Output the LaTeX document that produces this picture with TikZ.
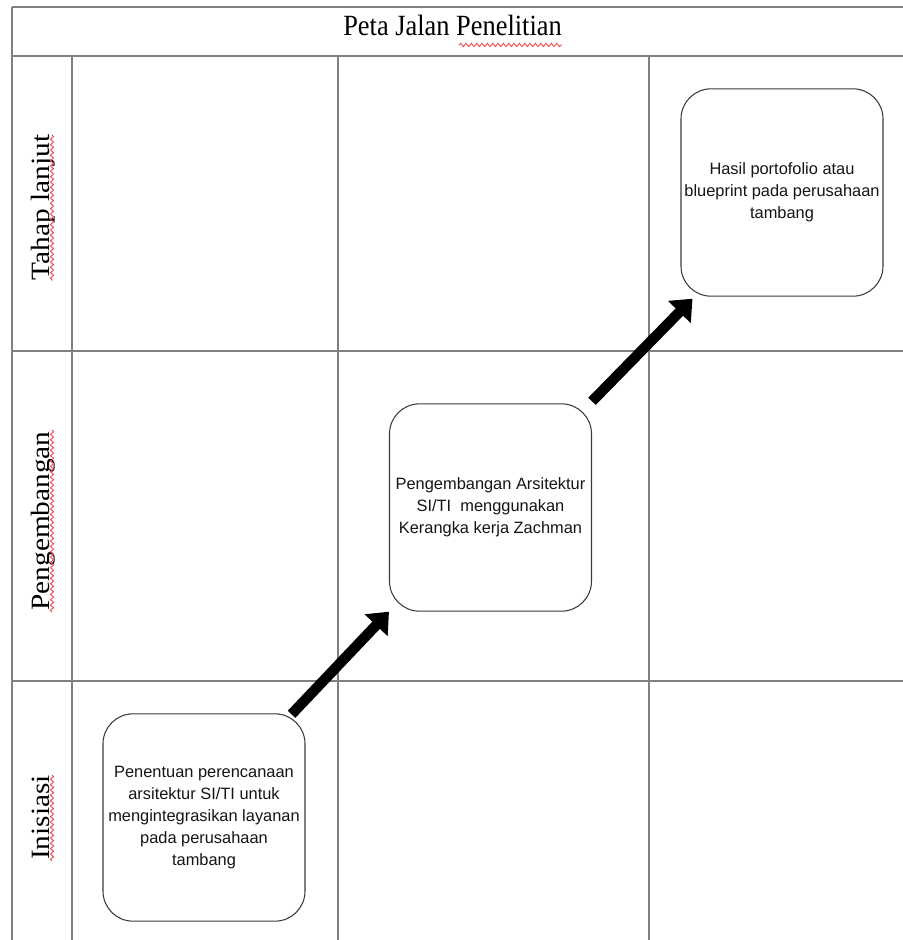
\documentclass[tikz,border=0pt]{standalone}
\usepackage{fontspec}
\setmainfont{Liberation Serif}
\newfontfamily\arialf{Liberation Sans}
\usetikzlibrary{arrows.meta,calc,decorations.pathmorphing}
\definecolor{gridgray}{HTML}{7F7F7F}
\definecolor{boxgray}{HTML}{3A3A3A}
\definecolor{txtblack}{HTML}{141414}
\definecolor{squigred}{HTML}{E8504F}
\begin{document}
\begin{tikzpicture}[x=0.75pt,y=-0.75pt,
  gridline/.style={draw=gridgray,line width=1.2pt},
  stepbox/.style={draw=boxgray,line width=0.8pt,rounded corners=22.5pt,
    minimum width=151.5pt,minimum height=155.5pt,inner sep=0pt,
    align=center,text=txtblack,font=\arialf\fontsize{12.3}{16.4}\selectfont},
  rowlabel/.style={rotate=90,anchor=base,inner sep=0pt,text=black,
    font=\fontsize{22}{26}\selectfont},
  titletext/.style={anchor=base,inner sep=0pt,text=black,
    font=\fontsize{22}{26}\selectfont},
  bigarrow/.style={draw=black,line width=7.8pt,line cap=butt,
    -{Triangle[length=14pt,width=23pt]}},
  squig/.style={draw=squigred,line width=0.7pt,
    decorate,decoration={snake,amplitude=1.2pt,segment length=4pt}}]
\useasboundingbox (0,0) rectangle (903,940);
% table grid
\draw[gridline] (12,7) -- (903,7);
\draw[gridline] (12,56) -- (903,56);
\draw[gridline] (12,351) -- (903,351);
\draw[gridline] (12,681) -- (903,681);
\draw[gridline] (12,7) -- (12,940);
\draw[gridline] (72,56) -- (72,940);
\draw[gridline] (338,56) -- (338,940);
\draw[gridline] (649,56) -- (649,940);
% title
\node[titletext] (title) at (452.5,35) {\scalebox{0.9}[1]{Peta Jalan Penelitian}};
\draw[squig] (459,45) -- (562,45);
% row labels
\node[rowlabel] (lab1) at (49,207.5) {\scalebox{1}[0.9]{Tahap lanjut}};
\node[rowlabel] (lab2) at (49.5,521) {\scalebox{1}[0.9]{Pengembangan}};
\node[rowlabel] (lab3) at (49.5,817.5) {\scalebox{1}[0.9]{Inisiasi}};
\draw[squig] (52,135) -- (52,281);
\draw[squig] (52,430) -- (52,612);
\draw[squig] (52,775) -- (52,861);
% boxes
\node[stepbox] (b1) at (204,817.5) {Penentuan perencanaan\\arsitektur SI/TI untuk\\mengintegrasikan layanan\\pada perusahaan\\tambang};
\node[stepbox] (b2) at (490.5,507.5) {Pengembangan Arsitektur\\SI/TI\ \ menggunakan\\Kerangka kerja Zachman};
\node[stepbox] (b3) at (782,192.5) {Hasil portofolio atau\\blueprint pada perusahaan\\tambang};
% arrows
\draw[bigarrow] ($(b1.north east)+(-14,1)$) -- ($(b2.south west)+(0,0)$);
\draw[bigarrow] ($(b2.north east)+(0,-2)$) -- ($(b3.south west)+(12,2)$);
\end{tikzpicture}
\end{document}
